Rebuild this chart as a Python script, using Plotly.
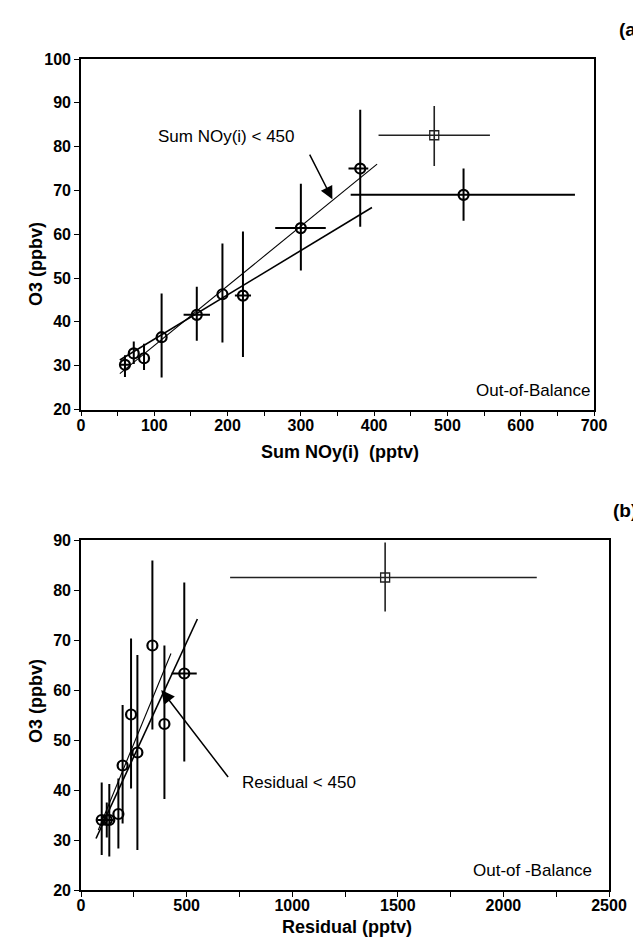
import plotly.graph_objects as go

# Panel (a): O3 vs Sum NOy(i)
a_x = [60, 72, 86, 110, 158, 193, 221, 300, 381, 522]
a_y = [30.2, 32.8, 31.7, 36.5, 41.6, 46.3, 46.0, 61.4, 75.0, 69.0]
a_yerr_hi = [2.2, 2.7, 3.3, 10.0, 6.4, 11.6, 14.6, 10.1, 13.4, 6.0]
a_yerr_lo = [2.8, 2.4, 2.7, 9.2, 5.9, 11.0, 14.0, 9.7, 13.3, 5.9]
a_xerr_hi = [6, 0, 0, 0, 18, 0, 11, 34, 11, 152]
a_xerr_lo = [6, 0, 0, 0, 18, 0, 11, 35, 16, 154]

# out-of-balance point (a)
a_sq_x = [482]
a_sq_y = [82.6]
a_sq_xerr_hi = [76]
a_sq_xerr_lo = [76]
a_sq_yerr_hi = [6.7]
a_sq_yerr_lo = [7.0]

# fit lines (a)
fit_a1_x = [53, 404]
fit_a1_y = [28.2, 76.0]
fit_a2_x = [53, 397]
fit_a2_y = [31.3, 66.1]

# Panel (b): O3 vs Residual
b_x = [98, 122, 134, 177, 197, 237, 267, 338, 395, 489]
b_y = [34.0, 34.0, 34.0, 35.2, 44.9, 55.1, 47.5, 68.9, 53.2, 63.3]
b_yerr_hi = [7.5, 3.5, 7.2, 7.1, 12.1, 15.2, 19.5, 17.0, 15.7, 18.2]
b_yerr_lo = [7.0, 3.5, 7.3, 6.9, 11.6, 14.8, 19.5, 16.8, 15.0, 17.6]
b_xerr_hi = [20, 0, 20, 0, 0, 0, 0, 0, 0, 59]
b_xerr_lo = [20, 0, 20, 0, 0, 0, 0, 0, 0, 60]

b_sq_x = [1440]
b_sq_y = [82.5]
b_sq_xerr_hi = [718]
b_sq_xerr_lo = [734]
b_sq_yerr_hi = [7.0]
b_sq_yerr_lo = [6.8]

fit_b1_x = [71, 551]
fit_b1_y = [30.3, 74.2]
fit_b2_x = [82, 426]
fit_b2_y = [32.0, 67.3]

FONT = "Liberation Sans, Arial, Helvetica, sans-serif"
W, H = 641, 940
OFF = 8  # page body margin shifts the figure by 8 px


def px(p):
    return (p - OFF) / W


def py(p):
    return 1 - (p - OFF) / H


def circles(x, y, xhi, xlo, yhi, ylo, xa, ya):
    return go.Scatter(
        x=x, y=y, xaxis=xa, yaxis=ya, mode="markers",
        marker=dict(symbol="circle-open", size=10, color="black", line=dict(width=2.2)),
        error_x=dict(type="data", array=xhi, arrayminus=xlo, width=0, thickness=2, color="black"),
        error_y=dict(type="data", array=yhi, arrayminus=ylo, width=0, thickness=2, color="black"),
        showlegend=False,
    )


def square(x, y, xhi, xlo, yhi, ylo, xa, ya):
    return go.Scatter(
        x=x, y=y, xaxis=xa, yaxis=ya, mode="markers",
        marker=dict(symbol="square-open", size=9, color="#222", line=dict(width=1.3)),
        error_x=dict(type="data", array=xhi, arrayminus=xlo, width=0, thickness=1.6, color="#222"),
        error_y=dict(type="data", array=yhi, arrayminus=ylo, width=0, thickness=1.6, color="#222"),
        showlegend=False,
    )


def fit(x, y, xa, ya, w):
    return go.Scatter(x=x, y=y, xaxis=xa, yaxis=ya, mode="lines",
                      line=dict(color="black", width=w), showlegend=False)


fig = go.Figure()
fig.add_trace(fit(fit_a1_x, fit_a1_y, "x", "y", 1.1))
fig.add_trace(fit(fit_a2_x, fit_a2_y, "x", "y", 1.6))
fig.add_trace(circles(a_x, a_y, a_xerr_hi, a_xerr_lo, a_yerr_hi, a_yerr_lo, "x", "y"))
fig.add_trace(square(a_sq_x, a_sq_y, a_sq_xerr_hi, a_sq_xerr_lo, a_sq_yerr_hi, a_sq_yerr_lo, "x", "y"))

fig.add_trace(fit(fit_b1_x, fit_b1_y, "x2", "y2", 1.6))
fig.add_trace(fit(fit_b2_x, fit_b2_y, "x2", "y2", 1.1))
fig.add_trace(circles(b_x, b_y, b_xerr_hi, b_xerr_lo, b_yerr_hi, b_yerr_lo, "x2", "y2"))
fig.add_trace(square(b_sq_x, b_sq_y, b_sq_xerr_hi, b_sq_xerr_lo, b_sq_yerr_hi, b_sq_yerr_lo, "x2", "y2"))

tickfont = dict(family=FONT, size=16, color="black", weight="bold")
axis_common = dict(
    showline=True, linecolor="black", linewidth=1.6, mirror=True,
    ticks="outside", ticklen=5, tickwidth=1.4, tickcolor="black",
    showgrid=False, zeroline=False, tickfont=tickfont, automargin=False,
)
minor_x = dict(ticks="outside", ticklen=5, tickwidth=1.4, tickcolor="black")

fig.update_layout(
    width=W, height=H, autosize=False,
    margin=dict(l=0, r=0, t=0, b=0, pad=0, autoexpand=False),
    plot_bgcolor="white", paper_bgcolor="white",
    xaxis=dict(axis_common, domain=[px(81), px(594)], range=[0, 700], dtick=100, anchor="y",
               minor=dict(minor_x, dtick=50), ticklabelstandoff=-5),
    yaxis=dict(axis_common, domain=[py(409.5), py(59)], range=[20, 100], dtick=10, anchor="x"),
    xaxis2=dict(axis_common, domain=[px(81), px(609)], range=[0, 2500], dtick=500, anchor="y2",
                minor=dict(minor_x, dtick=250), ticklabelstandoff=-5),
    yaxis2=dict(axis_common, domain=[py(890), py(540)], range=[20, 90], dtick=10, anchor="x2"),
)

title_font = dict(family=FONT, size=18, color="black", weight="bold")
text_font = dict(family=FONT, size=17, color="black")
letter_font = dict(family=FONT, size=19, color="black", weight="bold")


def paper_text(text, x, y, font, xanchor="center", **kw):
    return dict(text=text, x=px(x), y=py(y), xref="paper", yref="paper",
                xanchor=xanchor, yanchor="middle", showarrow=False, font=font, **kw)


annotations = [
    # axis titles
    paper_text("Sum NOy(i)  (pptv)", 340, 452, title_font),
    paper_text("O3 (ppbv)", 36, 264, title_font, textangle=-90),
    paper_text("Residual (pptv)", 347, 927, title_font),
    paper_text("O3 (ppbv)", 36, 701, title_font, textangle=-90),
    # panel letters
    paper_text("(a)", 617, 30, letter_font, xanchor="left"),
    paper_text("(b)", 611, 511, letter_font, xanchor="left"),
    # in-plot labels
    paper_text("Out-of-Balance", 592, 390, text_font, xanchor="right"),
    paper_text("Out-of -Balance", 594, 870, text_font, xanchor="right"),
    dict(text="Sum NOy(i) < 450", x=198, y=82.3, xref="x", yref="y",
         xanchor="center", yanchor="middle", showarrow=False, font=text_font),
    dict(text="Residual < 450", x=1032, y=41.5, xref="x2", yref="y2",
         xanchor="center", yanchor="middle", showarrow=False, font=text_font),
    # arrows
    dict(x=343, y=68.0, ax=311, ay=78.5, xref="x", yref="y", axref="x", ayref="y",
         text="", showarrow=True, arrowhead=2, arrowsize=1.7, arrowwidth=1.5, arrowcolor="black"),
    dict(x=380, y=60.0, ax=702, ay=42.3, xref="x2", yref="y2", axref="x2", ayref="y2",
         text="", showarrow=True, arrowhead=2, arrowsize=1.8, arrowwidth=1.5, arrowcolor="black"),
]
fig.update_layout(annotations=annotations)

fig.write_html("out.html")
